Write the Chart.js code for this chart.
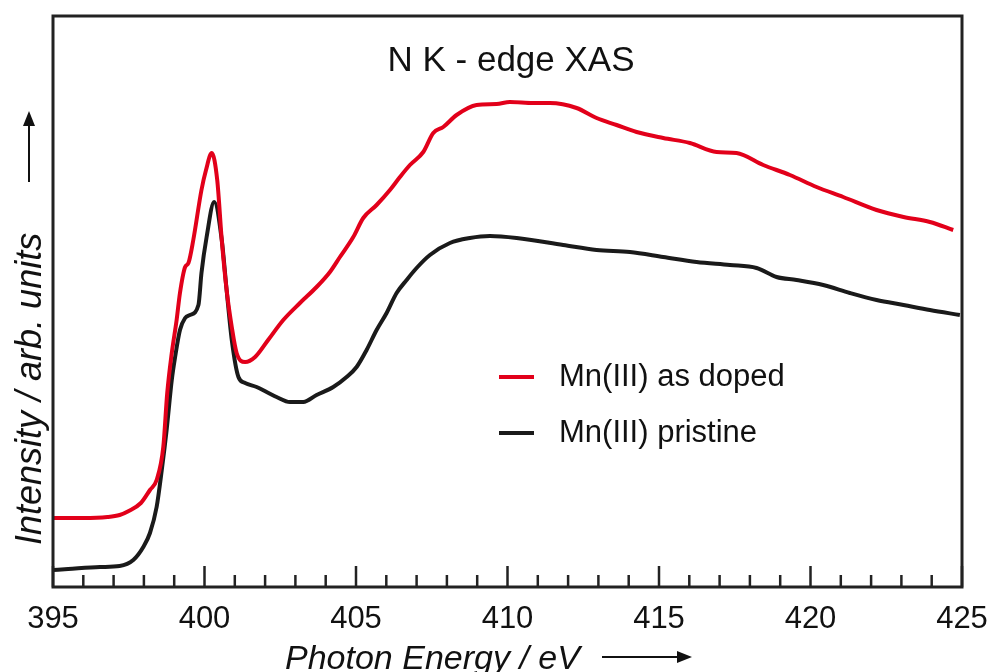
<!DOCTYPE html>
<html>
<head>
<meta charset="utf-8">
<script src="https://cdn.jsdelivr.net/npm/chart.js@4"></script>
<style>
    html, body { margin: 0; padding: 0; background: #fff; }
    #xasChart { display: block; }
</style>
</head>
<body>
<canvas id="xasChart" width="987" height="672"></canvas>
<script>
// photon energy (eV) and intensity (arb. units)
const dopedEnergy = [395.0, 396.0, 396.8, 397.2, 397.5, 397.9, 398.2, 398.42, 398.64, 398.77, 398.92, 399.08,
    399.19, 399.36, 399.47, 399.63, 399.9, 400.05, 400.24, 400.42, 400.57, 400.73, 400.9, 401.06, 401.34, 401.67,
    402.1, 402.6, 403.15, 403.7, 404.14, 404.47, 404.91, 405.24, 405.68, 406.12, 406.45, 406.78, 407.22, 407.55,
    407.88, 408.32, 408.98, 409.64, 410.08, 410.85, 411.4, 412.28, 412.94, 413.6, 414.26, 415.14, 416.02, 416.9,
    417.56, 418.44, 419.32, 420.2, 421.08, 422.18, 423.07, 423.94, 424.71];
const dopedIntensity = [0.69, 0.69, 0.70, 0.72, 0.76, 0.84, 0.97, 1.07, 1.40, 1.94, 2.34, 2.67,
    2.94, 3.20, 3.24, 3.47, 3.97, 4.17, 4.34, 4.07, 3.47, 2.97, 2.60, 2.34, 2.25, 2.30,
    2.47, 2.67, 2.84, 3.00, 3.15, 3.30, 3.50, 3.69, 3.82, 3.97, 4.10, 4.22, 4.35, 4.54,
    4.60, 4.72, 4.82, 4.83, 4.85, 4.84, 4.84, 4.79, 4.69, 4.62, 4.55, 4.49, 4.44, 4.35,
    4.34, 4.22, 4.12, 4.00, 3.90, 3.77, 3.70, 3.65, 3.57];

const pristineEnergy = [395.0, 395.5, 396.55, 397.2, 397.65, 397.98, 398.2, 398.42, 398.59, 398.75, 398.92, 399.03,
    399.19, 399.36, 399.52, 399.8, 399.9, 400.07, 400.32, 400.57, 400.73, 400.9, 401.12, 401.34, 401.72, 402.05,
    402.38, 402.82, 403.26, 403.7, 404.25, 404.69, 405.02, 405.35, 405.68, 406.01, 406.34, 406.67, 407.0, 407.44,
    408.1, 408.76, 409.42, 410.3, 411.84, 412.94, 414.04, 415.14, 416.24, 417.34, 418.22, 418.88, 419.54, 420.42,
    421.3, 422.18, 423.07, 423.94, 424.93];
const pristineIntensity = [0.17, 0.18, 0.20, 0.21, 0.27, 0.40, 0.54, 0.80, 1.17, 1.57, 2.07, 2.30,
    2.57, 2.69, 2.72, 2.82, 3.14, 3.50, 3.85, 3.47, 2.97, 2.47, 2.10, 2.04, 2.00, 1.95,
    1.90, 1.85, 1.85, 1.92, 2.00, 2.10, 2.20, 2.37, 2.57, 2.74, 2.94, 3.07, 3.19, 3.32,
    3.44, 3.49, 3.51, 3.49, 3.42, 3.37, 3.35, 3.30, 3.25, 3.22, 3.19, 3.10, 3.07, 3.02,
    2.94, 2.87, 2.82, 2.77, 2.72];

const seriesLabels = ["Mn(III) as doped", "Mn(III) pristine"];
const xTickValues = [395, 400, 405, 410, 415, 420, 425];
const minorStep = 1;

const FONT = "'Liberation Sans', Arial, Helvetica, sans-serif";
const RED = "#e2001a";
const BLACK = "#1a1a1a";

const toPoints = (xs, ys) => xs.map((x, i) => ({ x: x, y: ys[i] }));

// box, inward ticks, titles, legend and arrows
const decorations = {
    id: "decorations",
    afterDatasetsDraw: (chart) => {
        const ctx = chart.ctx;
        const area = chart.chartArea;
        const xScale = chart.scales.x;
        ctx.save();
        ctx.strokeStyle = "#222";
        ctx.lineWidth = 3;
        ctx.strokeRect(area.left, area.top, area.right - area.left, area.bottom - area.top);

        ctx.lineWidth = 2.5;
        for (let v = xScale.min; v <= xScale.max + 0.001; v += minorStep) {
            const px = xScale.getPixelForValue(v);
            const major = xTickValues.includes(Math.round(v));
            const len = major ? 21 : 12;
            ctx.beginPath();
            ctx.moveTo(px, area.bottom);
            ctx.lineTo(px, area.bottom - len);
            ctx.stroke();
        }
        ctx.restore();
    },
    afterDraw: (chart) => {
        const ctx = chart.ctx;
        ctx.save();
        ctx.fillStyle = "#111";

        // title inside the plot
        ctx.font = "35px " + FONT;
        ctx.textAlign = "center";
        ctx.textBaseline = "alphabetic";
        ctx.fillText("N K - edge XAS", 511, 71);

        // legend
        ctx.font = "31px " + FONT;
        ctx.textAlign = "left";
        ctx.textBaseline = "middle";
        const legendY = [377, 433];
        chart.data.datasets.forEach((ds, i) => {
            ctx.strokeStyle = ds.borderColor;
            ctx.lineWidth = 4;
            ctx.beginPath();
            ctx.moveTo(499, legendY[i]);
            ctx.lineTo(534, legendY[i]);
            ctx.stroke();
            ctx.fillStyle = "#111";
            ctx.fillText(ds.label, 559, legendY[i]);
        });

        // x axis title with arrow
        ctx.font = "italic 34px " + FONT;
        ctx.textBaseline = "alphabetic";
        ctx.fillText("Photon Energy / eV", 285, 669);
        ctx.strokeStyle = "#111";
        ctx.lineWidth = 2;
        ctx.beginPath();
        ctx.moveTo(602, 657);
        ctx.lineTo(680, 657);
        ctx.stroke();
        ctx.beginPath();
        ctx.moveTo(692, 657);
        ctx.lineTo(677, 651);
        ctx.lineTo(677, 663);
        ctx.closePath();
        ctx.fill();

        // y axis title with arrow
        ctx.save();
        ctx.font = "italic 36px " + FONT;
        ctx.translate(41, 545);
        ctx.rotate(-Math.PI / 2);
        ctx.textAlign = "left";
        ctx.fillText("Intensity / arb. units", 0, 0);
        ctx.restore();
        ctx.beginPath();
        ctx.moveTo(29, 182);
        ctx.lineTo(29, 124);
        ctx.stroke();
        ctx.beginPath();
        ctx.moveTo(29, 111);
        ctx.lineTo(23, 126);
        ctx.lineTo(35, 126);
        ctx.closePath();
        ctx.fill();
        ctx.restore();
    }
};

new Chart(document.getElementById("xasChart"), {
    type: "line",
    data: {
        datasets: [{
            label: seriesLabels[0],
            data: toPoints(dopedEnergy, dopedIntensity),
            borderColor: RED,
            borderWidth: 4,
            pointRadius: 0,
            cubicInterpolationMode: "monotone",
            fill: false
        }, {
            label: seriesLabels[1],
            data: toPoints(pristineEnergy, pristineIntensity),
            borderColor: BLACK,
            borderWidth: 4,
            pointRadius: 0,
            cubicInterpolationMode: "monotone",
            fill: false
        }]
    },
    options: {
        responsive: false,
        animation: false,
        events: [],
        layout: {
            padding: { left: 53, right: 25, top: 16, bottom: 0 }
        },
        plugins: {
            legend: { display: false },
            title: { display: false },
            tooltip: { enabled: false }
        },
        scales: {
            x: {
                type: "linear",
                min: 395,
                max: 425,
                grid: { display: false },
                border: { display: false },
                afterBuildTicks: (scale) => {
                    scale.ticks = xTickValues.map(v => ({ value: v }));
                },
                afterFit: (scale) => {
                    scale.height = 85;
                    scale.paddingLeft = 0;
                    scale.paddingRight = 0;
                },
                ticks: {
                    autoSkip: false,
                    maxRotation: 0,
                    padding: 6,
                    color: "#111",
                    font: { family: FONT, size: 31 }
                }
            },
            y: {
                display: false,
                min: 0,
                max: 5.71
            }
        }
    },
    plugins: [decorations]
});
</script>
</body>
</html>
